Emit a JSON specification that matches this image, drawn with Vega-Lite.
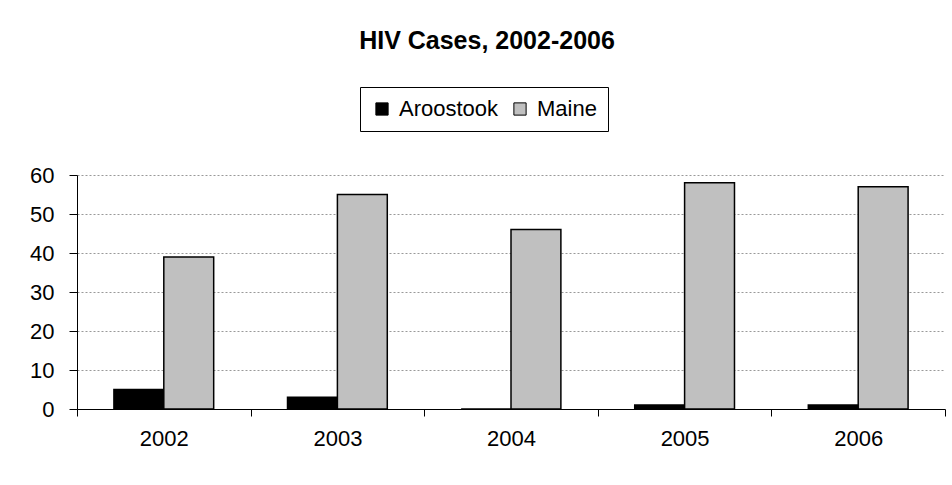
{
  "$schema": "https://vega.github.io/schema/vega-lite/v6.json",
  "width": 868,
  "height": 234,
  "autosize": {"type": "none"},
  "padding": {"left": 77, "top": 175, "right": 7, "bottom": 76},
  "background": "white",
  "title": {
    "text": "HIV Cases, 2002-2006",
    "font": "Liberation Sans",
    "fontSize": 25,
    "fontWeight": "bold",
    "color": "black",
    "anchor": "middle",
    "frame": "group",
    "dx": -24,
    "offset": 33
  },
  "data": {
    "values": [
      {"year": "2002", "area": "Aroostook", "cases": 5},
      {"year": "2002", "area": "Maine", "cases": 39},
      {"year": "2003", "area": "Aroostook", "cases": 3},
      {"year": "2003", "area": "Maine", "cases": 55},
      {"year": "2004", "area": "Aroostook", "cases": 0},
      {"year": "2004", "area": "Maine", "cases": 46},
      {"year": "2005", "area": "Aroostook", "cases": 1},
      {"year": "2005", "area": "Maine", "cases": 58},
      {"year": "2006", "area": "Aroostook", "cases": 1},
      {"year": "2006", "area": "Maine", "cases": 57}
    ]
  },
  "mark": {"type": "bar", "stroke": "black", "strokeWidth": 1.5},
  "encoding": {
    "x": {
      "field": "year",
      "type": "nominal",
      "scale": {"paddingInner": 0, "paddingOuter": 0},
      "axis": {
        "title": null,
        "labelAngle": 0,
        "tickBand": "extent",
        "domainColor": "black",
        "tickColor": "black",
        "tickSize": 7,
        "labelPadding": 12,
        "labelFont": "Liberation Sans",
        "labelFontSize": 22,
        "labelColor": "black",
        "grid": false
      }
    },
    "xOffset": {
      "field": "area",
      "type": "nominal",
      "scale": {"paddingInner": 0, "paddingOuter": 0.74}
    },
    "y": {
      "field": "cases",
      "type": "quantitative",
      "scale": {"domain": [0, 60], "nice": false},
      "axis": {
        "title": null,
        "values": [0, 10, 20, 30, 40, 50, 60],
        "domainColor": "black",
        "tickColor": "black",
        "tickSize": 8,
        "labelPadding": 15,
        "labelFont": "Liberation Sans",
        "labelFontSize": 22,
        "labelColor": "black",
        "grid": true,
        "gridColor": "#999999",
        "gridDash": [2, 2],
        "gridWidth": 1
      }
    },
    "color": {
      "field": "area",
      "type": "nominal",
      "scale": {"domain": ["Aroostook", "Maine"], "range": ["#000000", "#C0C0C0"]},
      "legend": {
        "title": null,
        "orient": "none",
        "direction": "horizontal",
        "legendX": 283,
        "legendY": -88,
        "padding": 11,
        "strokeColor": "black",
        "fillColor": "white",
        "symbolType": "square",
        "symbolSize": 150,
        "symbolStrokeColor": "black",
        "symbolStrokeWidth": 1,
        "labelFont": "Liberation Sans",
        "labelFontSize": 22,
        "labelColor": "black",
        "columnPadding": 10,
        "labelOffset": 6
      }
    }
  },
  "config": {"view": {"stroke": null}}
}
